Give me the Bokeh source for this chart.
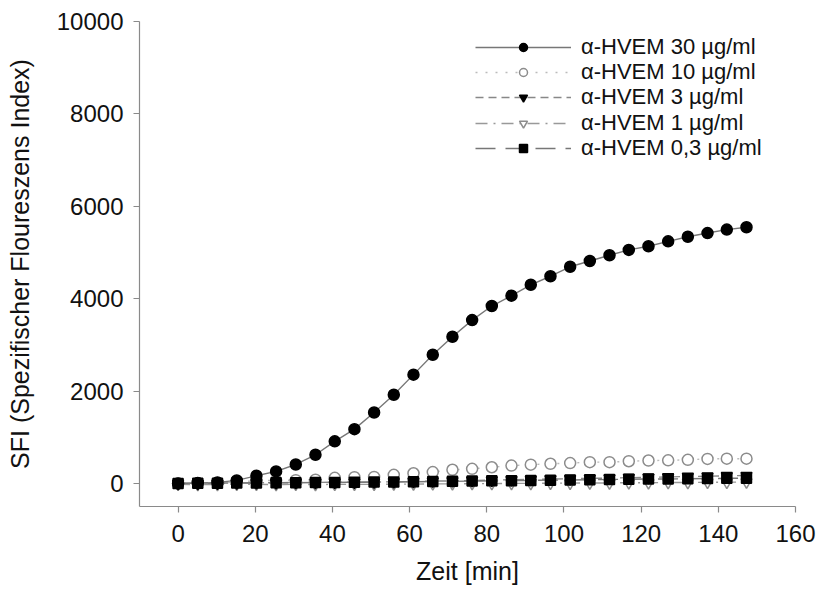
from bokeh.plotting import figure
from bokeh.models import Legend, LegendItem, FixedTicker, Range1d
from bokeh.embed import file_html
from bokeh.resources import INLINE

# ---- data ----
zeit = [0, 5.1, 10.2, 15.2, 20.3, 25.4, 30.5, 35.6, 40.6, 45.7,
        50.8, 55.9, 61.0, 66.0, 71.1, 76.2, 81.3, 86.4, 91.4, 96.5,
        101.6, 106.7, 111.8, 116.8, 121.9, 127.0, 132.1, 137.2, 142.2, 147.3]

sfi_30 = [0, 10, 20, 65, 165, 260, 410, 620, 910, 1175,
          1535, 1920, 2355, 2785, 3175, 3535, 3840, 4065, 4300, 4485,
          4690, 4815, 4940, 5055, 5135, 5240, 5340, 5420, 5495, 5545]
sfi_10 = [0, 5, 10, 30, 60, 65, 70, 80, 120, 135,
          140, 185, 220, 245, 295, 315, 350, 385, 405, 425,
          440, 460, 460, 480, 495, 500, 510, 530, 535, 535]
sfi_3 = [0, 0, 5, 10, 15, 15, 20, 20, 25, 25,
         30, 35, 40, 50, 55, 65, 70, 80, 85, 95,
         100, 110, 115, 125, 130, 140, 150, 155, 165, 170]
sfi_1 = [-20, -25, -25, -20, -20, -25, -20, -25, -20, -20,
         -20, -15, -15, -10, -10, -5, -5, 0, 0, 5,
         5, 10, 10, 15, 15, 20, 20, 25, 25, 30]
sfi_03 = [0, 5, 5, 10, 10, 15, 15, 20, 20, 25,
          30, 30, 35, 40, 45, 50, 55, 60, 65, 70,
          75, 80, 85, 90, 95, 95, 100, 105, 110, 110]

labels = ["α-HVEM 30 µg/ml", "α-HVEM 10 µg/ml", "α-HVEM 3 µg/ml",
          "α-HVEM 1 µg/ml", "α-HVEM 0,3 µg/ml"]
x_ticks = [0, 20, 40, 60, 80, 100, 120, 140, 160]
y_ticks = [0, 2000, 4000, 6000, 8000, 10000]
x_title = "Zeit [min]"
y_title = "SFI (Spezifischer Floureszens Index)"

FONT = "Liberation Sans"

p = figure(width=824, height=590, output_backend="svg", toolbar_location=None,
           x_range=Range1d(-10, 160), y_range=Range1d(-500, 10000),
           min_border_left=139, min_border_right=29, min_border_top=21,
           min_border_bottom=84)
p.outline_line_color = None
p.xgrid.visible = False
p.ygrid.visible = False
p.background_fill_color = "white"
p.border_fill_color = "white"

for ax in (p.xaxis[0], p.yaxis[0]):
    ax.axis_line_color = "#8a8a8a"
    ax.axis_line_width = 1.2
    ax.major_tick_line_color = "#8a8a8a"
    ax.major_tick_line_width = 1.2
    ax.major_tick_out = 6
    ax.major_tick_in = 0
    ax.minor_tick_line_color = None
    ax.major_label_text_font = FONT
    ax.major_label_text_font_size = "24px"
    ax.major_label_text_color = "#111111"
    ax.axis_label_text_font = FONT
    ax.axis_label_text_font_size = "25px"
    ax.axis_label_text_font_style = "normal"
    ax.axis_label_text_color = "#111111"

p.xaxis.ticker = FixedTicker(ticks=x_ticks)
p.yaxis.ticker = FixedTicker(ticks=y_ticks)
p.xaxis.axis_label = x_title
p.yaxis.axis_label = y_title
p.xaxis.major_label_standoff = 12
p.xaxis.axis_label_standoff = 12
p.yaxis.major_label_standoff = 10
p.yaxis.axis_label_standoff = 20

series = [
    dict(y=sfi_30, marker="circle", size=11, fill="black", mline="black",
         lcolor="#777777", dash="solid"),
    dict(y=sfi_10, marker="circle", size=11, fill="white", mline="#8c8c8c",
         lcolor="#bbbbbb", dash="2 8"),
    dict(y=sfi_3, marker="inverted_triangle", size=11, fill="black", mline="black",
         lcolor="#888888", dash="8 5"),
    dict(y=sfi_1, marker="inverted_triangle", size=11, fill="white", mline="#8c8c8c",
         lcolor="#999999", dash="12 6 2 6"),
    dict(y=sfi_03, marker="square", size=10, fill="black", mline="black",
         lcolor="#777777", dash="20 10"),
]

line_r = []
for s in series:
    line_r.append(p.line(zeit, s["y"], line_color=s["lcolor"], line_width=1.4,
                         line_dash=s["dash"]))

draw_order = [1, 3, 2, 4, 0]
scat_r = [None] * 5
for i in draw_order:
    s = series[i]
    scat_r[i] = p.scatter(zeit, s["y"], marker=s["marker"], size=s["size"],
                          fill_color=s["fill"], line_color=s["mline"],
                          line_width=1.5)

# one single-row legend per series, stacked with a tight row pitch
legend_y = [446, 421, 396, 370, 345]
for i in range(5):
    lg = Legend(items=[LegendItem(label=labels[i], renderers=[line_r[i], scat_r[i]])],
                location=(336, legend_y[i]))
    lg.label_text_font = FONT
    lg.label_text_font_size = "22px"
    lg.label_text_color = "#111111"
    lg.glyph_width = 96
    lg.glyph_height = 20
    lg.label_standoff = 10
    lg.padding = 0
    lg.margin = 0
    lg.spacing = 0
    lg.border_line_color = None
    lg.background_fill_alpha = 0
    p.add_layout(lg)

open("out.html", "w").write(file_html(p, INLINE))
